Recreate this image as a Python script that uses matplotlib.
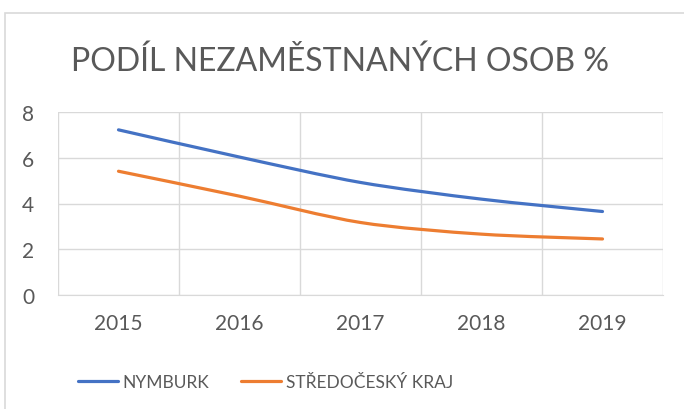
import matplotlib
matplotlib.use('Agg')
import matplotlib.pyplot as plt
from matplotlib.path import Path
from matplotlib.patches import PathPatch, Rectangle
from matplotlib.lines import Line2D

years = ["2015", "2016", "2017", "2018", "2019"]
nymburk = [7.22, 6.03, 4.92, 4.19, 3.65]
stredocesky = [5.41, 4.32, 3.17, 2.66, 2.45]
series_names = ["NYMBURK", "STŘEDOČESKÝ KRAJ"]
y_ticks = [0, 2, 4, 6, 8]

BLUE = "#4472C4"
ORANGE = "#ED7D31"
GRID = "#D9D9D9"
TEXT = "#595959"

plt.rcParams['font.family'] = ['Lato', 'DejaVu Sans']


def smooth_path(xs, ys):
    # Excel-like smoothed line: cubic bezier with catmull-rom tangents
    pts = list(zip(xs, ys))
    verts = [pts[0]]
    codes = [Path.MOVETO]
    n = len(pts)
    for i in range(n - 1):
        p0 = pts[i - 1] if i > 0 else pts[i]
        p1 = pts[i]
        p2 = pts[i + 1]
        p3 = pts[i + 2] if i + 2 < n else pts[i + 1]
        c1 = (p1[0] + (p2[0] - p0[0]) / 7, p1[1] + (p2[1] - p0[1]) / 7)
        c2 = (p2[0] - (p3[0] - p1[0]) / 7, p2[1] - (p3[1] - p1[1]) / 7)
        verts += [c1, c2, p2]
        codes += [Path.CURVE4] * 3
    return Path(verts, codes)


fig = plt.figure(figsize=(6.84, 4.10), dpi=100)
fig.patches.append(Rectangle((5 / 684, -0.1), 1.2, 1.1 - 14 / 410,
                             transform=fig.transFigure, fill=False,
                             edgecolor=GRID, linewidth=1.2))

ax = fig.add_axes([58 / 684, 114 / 410, 605 / 684, 183 / 410])
x = list(range(len(years)))
for vals, color in [(nymburk, BLUE), (stredocesky, ORANGE)]:
    ax.add_patch(PathPatch(smooth_path(x, vals), facecolor='none',
                           edgecolor=color, linewidth=2.3, capstyle='round'))

ax.set_xlim(-0.5, len(years) - 0.5)
ax.set_ylim(0, 8)
ax.set_yticks(y_ticks)
ax.set_xticks(x)
ax.set_xticklabels(years)
ax.set_xticks([i - 0.5 for i in range(len(years) + 1)], minor=True)
ax.grid(True, which='minor', axis='x', color=GRID, linewidth=1)
ax.grid(True, which='major', axis='y', color=GRID, linewidth=1)
ax.set_axisbelow(True)
for side in ['top', 'right', 'left']:
    ax.spines[side].set_visible(False)
ax.spines['bottom'].set_color(GRID)
ax.tick_params(axis='both', which='both', length=0, labelsize=15,
               labelcolor=TEXT)
ax.tick_params(axis='y', pad=17)
ax.tick_params(axis='x', pad=13)

fig.text(0.497, 1 - 62 / 410, "PODÍL NEZAMĚSTNANÝCH OSOB %", ha='center',
         va='center', fontsize=23, color=TEXT)

handles = [Line2D([], [], color=BLUE, linewidth=2.3, solid_capstyle='round'),
           Line2D([], [], color=ORANGE, linewidth=2.3, solid_capstyle='round')]
fig.legend(handles, series_names, loc='center', bbox_to_anchor=(0.388, 1 - 383 / 410),
           ncol=2, frameon=False, fontsize=12.5, labelcolor=TEXT,
           handlelength=2.3, handletextpad=0.3, columnspacing=1.8)

fig.savefig('out.png', dpi=100)
